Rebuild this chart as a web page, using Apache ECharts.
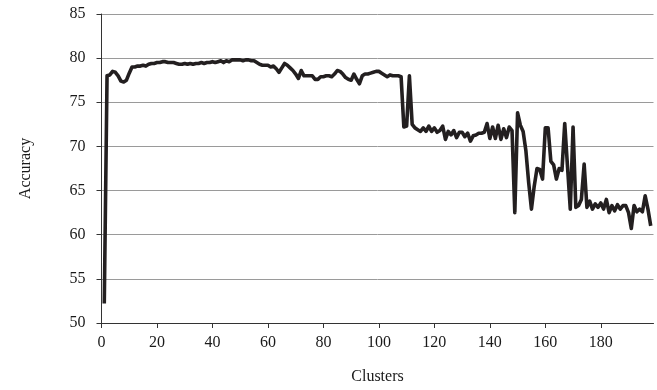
<!DOCTYPE html>
<html>
<head>
<meta charset="utf-8">
<script src="https://cdn.jsdelivr.net/npm/echarts@6/dist/echarts.min.js"></script>
<style>html,body{margin:0;padding:0;background:#fff;}#c{width:657px;height:390px;}</style>
</head>
<body>
<div id="c"></div>
<script>
const clusters = [];
for (let i = 1; i <= 198; i++) clusters.push(i);
const accuracy = [
  52.2, 78.0, 78.1, 78.5, 78.4, 78.0, 77.4, 77.3, 77.5, 78.3,
  79.0, 79.0, 79.1, 79.1, 79.2, 79.1, 79.3, 79.4, 79.4, 79.5,
  79.5, 79.6, 79.6, 79.5, 79.5, 79.5, 79.4, 79.3, 79.3, 79.4,
  79.3, 79.4, 79.3, 79.4, 79.4, 79.5, 79.4, 79.5, 79.5, 79.6,
  79.5, 79.6, 79.7, 79.5, 79.7, 79.6, 79.8, 79.8, 79.8, 79.8,
  79.7, 79.8, 79.8, 79.7, 79.7, 79.5, 79.3, 79.2, 79.2, 79.2,
  79.0, 79.1, 78.8, 78.4, 78.9, 79.4, 79.2, 78.9, 78.6, 78.2,
  77.7, 78.6, 78.0, 78.0, 78.0, 78.0, 77.6, 77.6, 77.9, 77.9,
  78.0, 78.0, 77.9, 78.2, 78.6, 78.5, 78.2, 77.8, 77.6, 77.5,
  78.2, 77.6, 77.1, 78.0, 78.2, 78.2, 78.3, 78.4, 78.5, 78.5,
  78.3, 78.1, 77.9, 78.1, 78.0, 78.0, 78.0, 77.9, 72.2, 72.3,
  78.0, 72.5, 72.1, 71.9, 71.7, 72.1, 71.7, 72.3, 71.7, 72.1,
  71.6, 71.8, 72.3, 70.8, 71.7, 71.3, 71.8, 71.0, 71.6, 71.6,
  71.1, 71.5, 70.6, 71.2, 71.3, 71.5, 71.5, 71.6, 72.6, 70.9,
  72.2, 70.9, 72.4, 70.8, 72.0, 71.0, 72.2, 71.8, 62.5, 73.8,
  72.4, 71.7, 69.5, 65.9, 62.9, 65.5, 67.5, 67.4, 66.3, 72.1,
  72.1, 68.3, 67.9, 66.3, 67.5, 67.3, 72.6, 67.7, 62.9, 72.2,
  63.1, 63.3, 64.0, 68.0, 63.1, 63.8, 62.9, 63.5, 63.1, 63.6,
  62.9, 64.0, 62.5, 63.3, 62.7, 63.4, 62.9, 63.3, 63.3, 62.5,
  60.7, 63.3, 62.6, 62.9, 62.6, 64.4, 62.9, 61.0
];
const xTicks = [0, 20, 40, 60, 80, 100, 120, 140, 160, 180];
const yTicks = [50, 55, 60, 65, 70, 75, 80, 85];

const font = 'Liberation Serif';
const chart = echarts.init(document.getElementById('c'), null, {renderer: 'canvas'});
chart.setOption({
  animation: false,
  backgroundColor: '#fff',
  grid: {left: 101.5, top: 14, width: 552, height: 310, containLabel: false},
  xAxis: {
    type: 'value', min: 0, max: 199,
    name: 'Clusters', nameLocation: 'middle', nameGap: 46,
    nameTextStyle: {fontFamily: font, fontSize: 16, color: '#1a1a1a'},
    axisLine: {show: true, onZero: false, lineStyle: {color: '#333', width: 1}},
    axisTick: {show: true, length: 5, inside: false, customValues: xTicks, lineStyle: {color: '#333'}},
    axisLabel: {customValues: xTicks, fontFamily: font, fontSize: 16, color: '#1a1a1a', margin: 12},
    splitLine: {show: false}
  },
  yAxis: {
    type: 'value', min: 50, max: 85, interval: 5,
    name: 'Accuracy', nameLocation: 'middle', nameGap: 68, nameRotate: 90,
    nameTextStyle: {fontFamily: font, fontSize: 16, color: '#1a1a1a'},
    axisLine: {show: true, lineStyle: {color: '#333', width: 1}},
    axisTick: {show: true, length: 5, inside: false, lineStyle: {color: '#333'}},
    axisLabel: {fontFamily: font, fontSize: 16, color: '#1a1a1a', margin: 16,
      customValues: yTicks},
    splitLine: {show: true, lineStyle: {color: '#9a9a9a', width: 1}}
  },
  series: [{
    type: 'line',
    data: clusters.map((c, i) => [c, accuracy[i]]),
    showSymbol: false,
    lineStyle: {color: '#231f20', width: 3.6, join: 'round'},
    z: 3
  }]
});
</script>
</body>
</html>
